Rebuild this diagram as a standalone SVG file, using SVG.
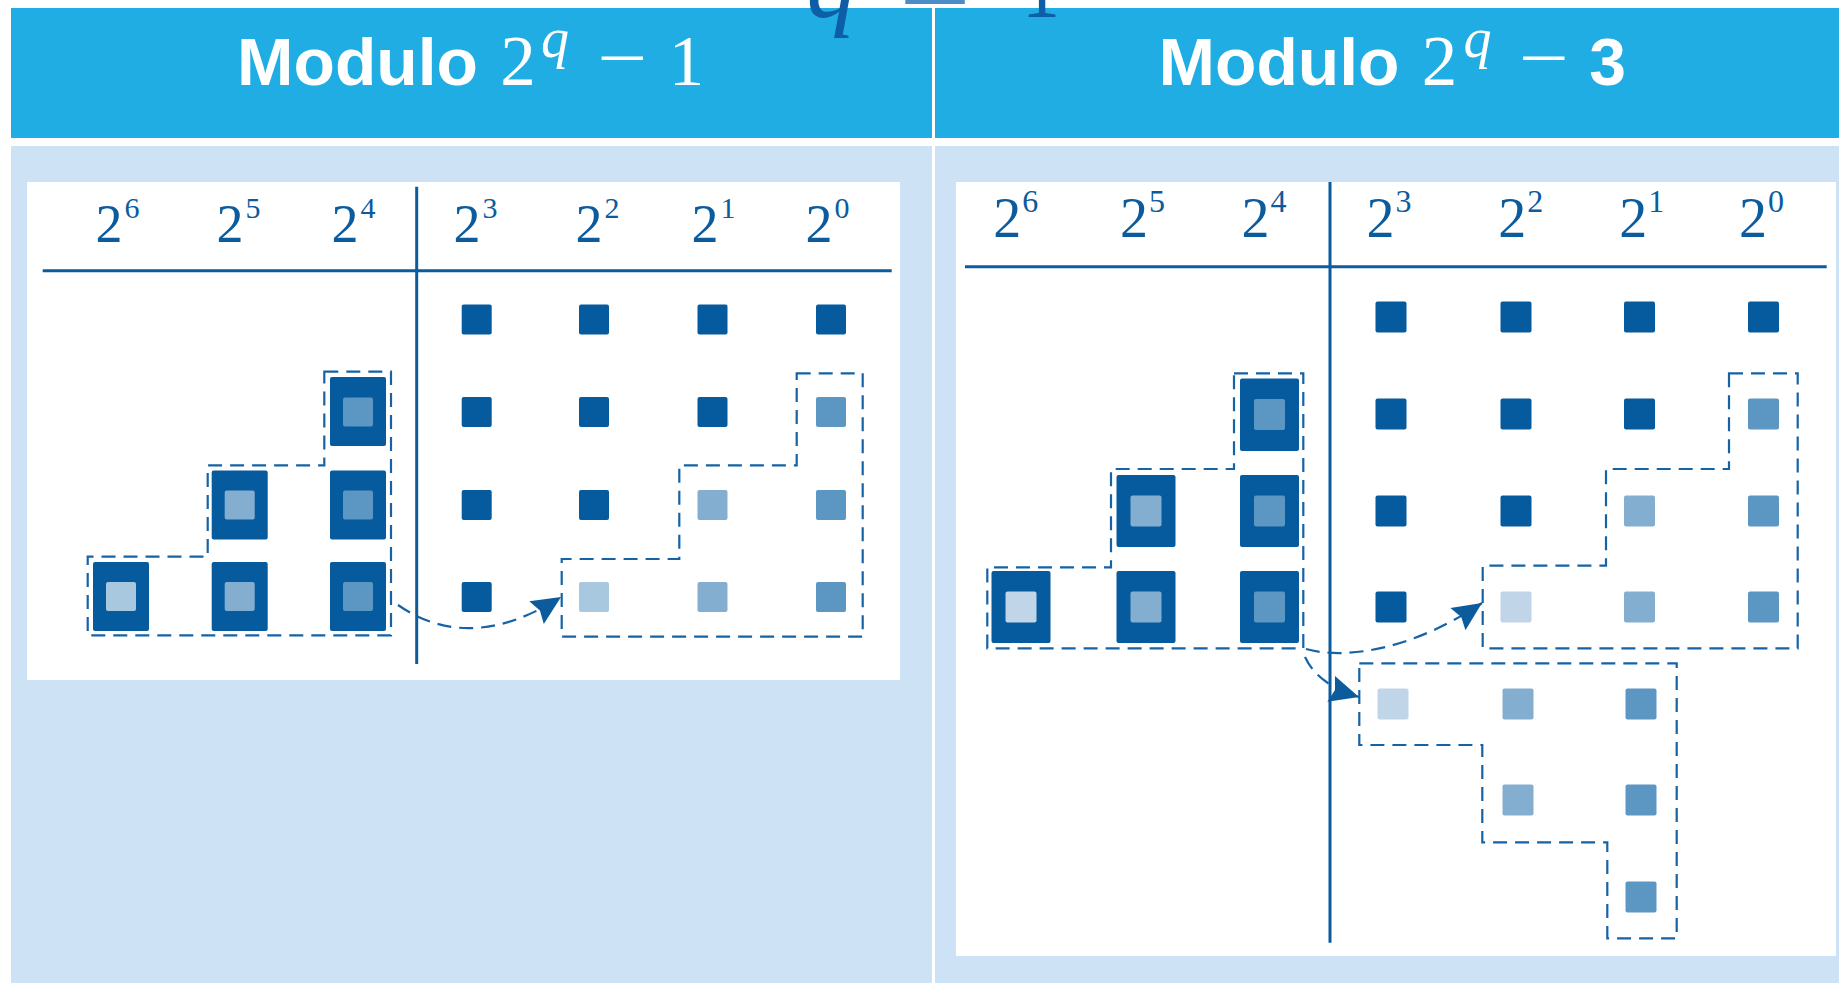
<svg xmlns="http://www.w3.org/2000/svg" width="1839" height="983" viewBox="0 0 1839 983">
<style>
.hdr{fill:#1fade3}
.panel{fill:#cde2f5}
.sheet{fill:#ffffff}
.axis{stroke:#0b5b9d;stroke-width:3;fill:none}
.lbl{font-family:"Liberation Serif",serif;fill:#0b5b9d}
.htxt{font-family:"Liberation Sans",Arial,sans-serif;font-weight:bold;fill:#ffffff}
.hmath{font-family:"Liberation Serif",serif;fill:#ffffff}
.dk{fill:#065b9e}
.c1{fill:#5c96c3}
.c2{fill:#84aecf}
.c3{fill:#a8c8e0}
.c4{fill:#c0d5e8}
.dash{fill:none;stroke:#1563a5;stroke-width:2.2;stroke-dasharray:14 8}
.conn{fill:none;stroke:#1563a5;stroke-width:2.2;stroke-dasharray:14 8;marker-end:url(#ah)}
.top{font-family:"Liberation Serif",serif;fill:#0d5ea6}
</style>
<defs>
<marker id="ah" markerUnits="userSpaceOnUse" viewBox="-31 -15 33 30" refX="0" refY="0" markerWidth="33" markerHeight="30" orient="auto">
<path d="M0,0 L-29,-13.5 L-25,0 L-29,13.5 Z" fill="#0b5b9d"/>
</marker>
</defs>

<g id="background">
<rect x="0" y="0" width="1839" height="983" fill="#ffffff"/>
<rect class="hdr" x="11" y="8" width="921" height="130"/>
<rect class="hdr" x="935" y="8" width="904" height="130"/>
<rect class="panel" x="11" y="146" width="921" height="837"/>
<rect class="panel" x="935" y="146" width="904" height="837"/>
<rect class="sheet" x="27" y="182" width="873" height="498"/>
<rect class="sheet" x="956" y="182" width="880" height="774"/>
</g>

<g id="header-left">
<text class="htxt" x="237" y="85" font-size="66" textLength="241" lengthAdjust="spacingAndGlyphs">Modulo</text>
<text class="hmath" x="518" y="85" font-size="71" text-anchor="middle">2</text>
<text class="hmath" x="555" y="57" font-size="56" font-style="italic" text-anchor="middle">q</text>
<text class="hmath" x="597" y="82" font-size="71" textLength="50" lengthAdjust="spacingAndGlyphs">−</text>
<text class="hmath" x="686.5" y="85" font-size="71" text-anchor="middle">1</text>
</g>

<g id="header-right">
<text class="htxt" x="1158.5" y="85" font-size="66" textLength="241" lengthAdjust="spacingAndGlyphs">Modulo</text>
<text class="hmath" x="1439.5" y="85" font-size="71" text-anchor="middle">2</text>
<text class="hmath" x="1477.5" y="57" font-size="56" font-style="italic" text-anchor="middle">q</text>
<text class="hmath" x="1518.5" y="82" font-size="71" textLength="50" lengthAdjust="spacingAndGlyphs">−</text>
<text class="htxt" x="1607.5" y="85" font-size="66" text-anchor="middle">3</text>
</g>

<g id="top-formula">
<text class="top" x="831.5" y="16.5" font-size="100" font-style="italic" text-anchor="middle">q</text>
<text class="top" x="899" y="25" font-size="100" textLength="72" lengthAdjust="spacingAndGlyphs" style="fill:#4d8cc8">=</text>
<text class="top" x="1022" y="16.5" font-size="100" textLength="38" lengthAdjust="spacingAndGlyphs">1</text>
</g>

<g id="left-axes">
<line class="axis" x1="42.7" y1="270.7" x2="891.7" y2="270.7"/>
<line class="axis" x1="416.7" y1="186.7" x2="416.7" y2="664"/>
</g>

<g id="left-labels" class="lbl" font-size="54">
<text x="95.5" y="241.7">2<tspan dx="2" dy="-24" font-size="30">6</tspan></text>
<text x="216.5" y="241.7">2<tspan dx="2" dy="-24" font-size="30">5</tspan></text>
<text x="331.5" y="241.7">2<tspan dx="2" dy="-24" font-size="30">4</tspan></text>
<text x="453.5" y="241.7">2<tspan dx="2" dy="-24" font-size="30">3</tspan></text>
<text x="575.5" y="241.7">2<tspan dx="2" dy="-24" font-size="30">2</tspan></text>
<text x="691.5" y="241.7">2<tspan dx="2" dy="-24" font-size="30">1</tspan></text>
<text x="805.5" y="241.7">2<tspan dx="2" dy="-24" font-size="30">0</tspan></text>
</g>

<g id="left-small-squares">
<rect class="dk" x="461.7" y="304.5" width="30" height="30" rx="2"/>
<rect class="dk" x="579" y="304.5" width="30" height="30" rx="2"/>
<rect class="dk" x="697.5" y="304.5" width="30" height="30" rx="2"/>
<rect class="dk" x="816" y="304.5" width="30" height="30" rx="2"/>
<rect class="dk" x="461.7" y="397" width="30" height="30" rx="2"/>
<rect class="dk" x="579" y="397" width="30" height="30" rx="2"/>
<rect class="dk" x="697.5" y="397" width="30" height="30" rx="2"/>
<rect class="c1" x="816" y="397" width="30" height="30" rx="2"/>
<rect class="dk" x="461.7" y="490" width="30" height="30" rx="2"/>
<rect class="dk" x="579" y="490" width="30" height="30" rx="2"/>
<rect class="c2" x="697.5" y="490" width="30" height="30" rx="2"/>
<rect class="c1" x="816" y="490" width="30" height="30" rx="2"/>
<rect class="dk" x="461.7" y="582" width="30" height="30" rx="2"/>
<rect class="c3" x="579" y="582" width="30" height="30" rx="2"/>
<rect class="c2" x="697.5" y="582" width="30" height="30" rx="2"/>
<rect class="c1" x="816" y="582" width="30" height="30" rx="2"/>
</g>

<g id="left-big-squares">
<rect class="dk" x="330" y="377" width="56" height="69" rx="2"/>
<rect class="c1" x="343" y="397.5" width="30" height="29" rx="2"/>
<rect class="dk" x="211.7" y="470.5" width="56" height="69" rx="2"/>
<rect class="c2" x="224.7" y="490.5" width="30" height="29" rx="2"/>
<rect class="dk" x="330" y="470.5" width="56" height="69" rx="2"/>
<rect class="c1" x="343" y="490.5" width="30" height="29" rx="2"/>
<rect class="dk" x="93" y="562" width="56" height="69" rx="2"/>
<rect class="c3" x="106" y="582" width="30" height="29" rx="2"/>
<rect class="dk" x="211.7" y="562" width="56" height="69" rx="2"/>
<rect class="c2" x="224.7" y="582" width="30" height="29" rx="2"/>
<rect class="dk" x="330" y="562" width="56" height="69" rx="2"/>
<rect class="c1" x="343" y="582" width="30" height="29" rx="2"/>
</g>

<g id="left-groups">
<path class="dash" d="M324.3,371.7 H391 V635.3 H87.7 V556.7 H207.7 V465.3 H324.3 Z"/>
<path class="dash" d="M796.7,373.3 H862.7 V636.7 H561.7 V559 H679.3 V465.3 H796.7 Z"/>
</g>

<g id="right-axes">
<line class="axis" x1="965" y1="266.7" x2="1826.7" y2="266.7"/>
<line class="axis" x1="1330" y1="182" x2="1330" y2="942.7"/>
</g>

<g id="right-labels" class="lbl" font-size="56">
<text x="993.3" y="236.7">2<tspan dx="1" dy="-25" font-size="32">6</tspan></text>
<text x="1120" y="236.7">2<tspan dx="1" dy="-25" font-size="32">5</tspan></text>
<text x="1241.6" y="236.7">2<tspan dx="1" dy="-25" font-size="32">4</tspan></text>
<text x="1366.6" y="236.7">2<tspan dx="1" dy="-25" font-size="32">3</tspan></text>
<text x="1498.3" y="236.7">2<tspan dx="1" dy="-25" font-size="32">2</tspan></text>
<text x="1619.3" y="236.7">2<tspan dx="1" dy="-25" font-size="32">1</tspan></text>
<text x="1739" y="236.7">2<tspan dx="1" dy="-25" font-size="32">0</tspan></text>
</g>

<g id="right-small-squares">
<rect class="dk" x="1375.5" y="301.5" width="31" height="31" rx="2"/>
<rect class="dk" x="1500.5" y="301.5" width="31" height="31" rx="2"/>
<rect class="dk" x="1624" y="301.5" width="31" height="31" rx="2"/>
<rect class="dk" x="1748" y="301.5" width="31" height="31" rx="2"/>
<rect class="dk" x="1375.5" y="398.5" width="31" height="31" rx="2"/>
<rect class="dk" x="1500.5" y="398.5" width="31" height="31" rx="2"/>
<rect class="dk" x="1624" y="398.5" width="31" height="31" rx="2"/>
<rect class="c1" x="1748" y="398.5" width="31" height="31" rx="2"/>
<rect class="dk" x="1375.5" y="495.5" width="31" height="31" rx="2"/>
<rect class="dk" x="1500.5" y="495.5" width="31" height="31" rx="2"/>
<rect class="c2" x="1624" y="495.5" width="31" height="31" rx="2"/>
<rect class="c1" x="1748" y="495.5" width="31" height="31" rx="2"/>
<rect class="dk" x="1375.5" y="591.5" width="31" height="31" rx="2"/>
<rect class="c4" x="1500.5" y="591.5" width="31" height="31" rx="2"/>
<rect class="c2" x="1624" y="591.5" width="31" height="31" rx="2"/>
<rect class="c1" x="1748" y="591.5" width="31" height="31" rx="2"/>
<rect class="c4" x="1377.5" y="688.5" width="31" height="31" rx="2"/>
<rect class="c2" x="1502.5" y="688.5" width="31" height="31" rx="2"/>
<rect class="c1" x="1625.5" y="688.5" width="31" height="31" rx="2"/>
<rect class="c2" x="1502.5" y="784.5" width="31" height="31" rx="2"/>
<rect class="c1" x="1625.5" y="784.5" width="31" height="31" rx="2"/>
<rect class="c1" x="1625.5" y="881.5" width="31" height="31" rx="2"/>
</g>

<g id="right-big-squares">
<rect class="dk" x="1240" y="378.5" width="59" height="72.5" rx="2"/>
<rect class="c1" x="1254" y="399" width="31" height="31" rx="2"/>
<rect class="dk" x="1116.5" y="475" width="59" height="72" rx="2"/>
<rect class="c2" x="1130.5" y="495.5" width="31" height="31" rx="2"/>
<rect class="dk" x="1240" y="475" width="59" height="72" rx="2"/>
<rect class="c1" x="1254" y="495.5" width="31" height="31" rx="2"/>
<rect class="dk" x="991.5" y="571" width="59" height="72" rx="2"/>
<rect class="c4" x="1005.5" y="591.5" width="31" height="31" rx="2"/>
<rect class="dk" x="1116.5" y="571" width="59" height="72" rx="2"/>
<rect class="c2" x="1130.5" y="591.5" width="31" height="31" rx="2"/>
<rect class="dk" x="1240" y="571" width="59" height="72" rx="2"/>
<rect class="c1" x="1254" y="591.5" width="31" height="31" rx="2"/>
</g>

<g id="right-groups">
<path class="dash" d="M1234,373.3 H1303.3 V648.3 H987.3 V567.3 H1111 V469 H1234 Z"/>
<path class="dash" d="M1729,373.3 H1797.7 V648.3 H1482.7 V565.7 H1606 V469 H1729 Z"/>
<path class="dash" d="M1359.3,663.3 H1676.7 V938.3 H1607.3 V842.3 H1482.3 V745 H1359.3 Z"/>
</g>

<g id="connectors">
<path class="conn" d="M398,605 Q470,655 561,597"/>
<path class="conn" d="M1306,649 C1345,660 1412,650 1482,603"/>
<path class="conn" d="M1305,657 Q1318,685 1359,697"/>
</g>
</svg>
